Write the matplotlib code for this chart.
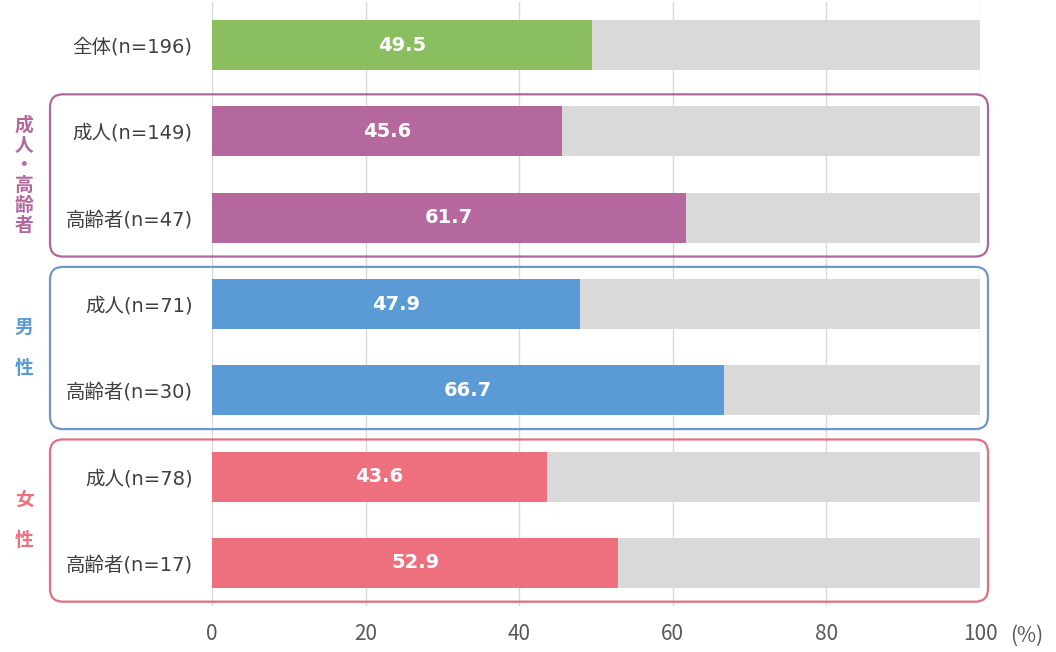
import matplotlib
matplotlib.use("Agg")
import matplotlib.pyplot as plt
from matplotlib.patches import FancyBboxPatch
from matplotlib.transforms import IdentityTransform

plt.rcParams['font.family'] = ['Noto Sans CJK JP', 'DejaVu Sans']

categories = ["全体(n=196)", "成人(n=149)", "高齢者(n=47)", "成人(n=71)",
              "高齢者(n=30)", "成人(n=78)", "高齢者(n=17)"]
values = [49.5, 45.6, 61.7, 47.9, 66.7, 43.6, 52.9]
bar_colors = ["#8BBE5E", "#B4689E", "#B4689E", "#5B9BD5", "#5B9BD5", "#EE707F", "#EE707F"]
groups = [("成\n人\n・\n高\n齢\n者", 1, 2, "#B0669C", "#B4689E"),
          ("男\n\n性", 3, 4, "#6F97C9", "#5B9BD5"),
          ("女\n\n性", 5, 6, "#E36F7E", "#EE707F")]
xticks = [0, 20, 40, 60, 80, 100]

W, H = 1056, 652
fig = plt.figure(figsize=(W / 100, H / 100), dpi=100)
ax = fig.add_axes([212 / W, 46 / H, 768 / W, 604 / H])

n = len(categories)
ys = list(range(n))
ax.barh(ys, [100] * n, height=0.58, color="#D9D9D9", zorder=2)
ax.barh(ys, values, height=0.58, color=bar_colors, zorder=3)
for y, v in zip(ys, values):
    ax.text(v / 2, y, f"{v:.1f}", ha="center", va="center", color="white",
            fontsize=14, fontweight="bold", family=["DejaVu Sans"], zorder=4)

ax.set_xlim(0, 100)
ax.set_ylim(n - 0.5, -0.5)
ax.set_xticks(xticks)
ax.set_xticklabels([str(t) for t in xticks], color="#595959", fontsize=15)
ax.tick_params(axis="x", length=0, pad=12)
ax.set_yticks(ys)
ax.set_yticklabels(categories, color="#404040", fontsize=14,
                   family=["DejaVu Sans", "Noto Sans CJK JP"])
ax.tick_params(axis="y", length=0, pad=14)
ax.grid(axis="x", color="#D9D9D9", linewidth=1, zorder=0)
ax.set_axisbelow(True)
for s in ax.spines.values():
    s.set_visible(False)

fig.text(1010 / W, 1 - 636 / H, "(%)", ha="left", va="center", color="#595959", fontsize=15)

fig.canvas.draw()
for label, r0, r1, ec, tc in groups:
    ytop = ax.transData.transform((0, r0 - 0.43))[1]
    ybot = ax.transData.transform((0, r1 + 0.45))[1]
    x0, x1 = 50, 988
    box = FancyBboxPatch((x0, ybot), x1 - x0, ytop - ybot,
                         boxstyle="round,pad=0,rounding_size=13",
                         transform=IdentityTransform(), fill=False,
                         edgecolor=ec, linewidth=1.6, zorder=5)
    fig.patches.append(box)
    ymid = (ytop + ybot) / 2
    fig.text(24 / W, ymid / H, label, ha="center", va="center", color=tc,
             fontsize=13.5, fontweight="bold", linespacing=1.08)

fig.savefig("out.png", dpi=100)
